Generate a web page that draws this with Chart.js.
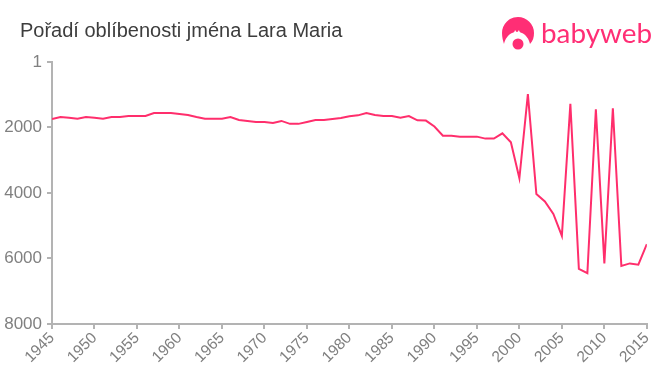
<!DOCTYPE html>
<html>
<head>
<meta charset="utf-8">
<script src="https://cdn.jsdelivr.net/npm/chart.js@4"></script>
<style>
  html, body { margin: 0; padding: 0; background: #fff; }
  #wrap { position: relative; width: 660px; height: 375px; overflow: hidden; }
  #logo { position: absolute; left: 0; top: 0; }
  #title { position: absolute; left: 20px; top: 19px; font: 20px "Liberation Sans"; color: #3d3d3d; white-space: nowrap; }
</style>
</head>
<body>
<div id="wrap">
  <canvas id="rankChart" width="660" height="375"></canvas>
  <div id="title">Pořadí oblíbenosti jména Lara Maria</div>
  <svg id="logo" width="660" height="70">
    <path fill="#ff2e75" d="M502 33a16 16 0 1 1 32 0c0 4-1 8-4 11c-1-5-4-9-8-11c-1 0-3-1-3-3c-1 1-1 2-2 2c-1 0-1-1-2-2c0 2-2 3-3 3c-4 2-7 6-8 11c-1-3-2-7-2-11z"/>
    <circle cx="518" cy="44" r="5.5" fill="#ff2e75"/>
    <text x="541" y="42.5" fill="#ff2e75" font-family="Lato" font-size="27.5" textLength="111" lengthAdjust="spacingAndGlyphs">babyweb</text>
  </svg>
</div>
<script>
const years = [];
for (let y = 1945; y <= 2015; y++) years.push(y);
const ranks = [
  1740,1680,1700,1730,1680,1700,1730,1680,1680,1650,
  1650,1650,1560,1560,1560,1590,1620,1680,1730,1730,
  1730,1680,1770,1800,1830,1830,1860,1800,1890,1890,
  1830,1770,1770,1740,1710,1660,1630,1560,1620,1650,
  1650,1700,1650,1780,1790,1970,2250,2250,2280,2280,
  2280,2340,2340,2180,2450,3550,980,4030,4260,4640,
  5310,1280,6320,6450,1445,6150,1415,6230,6150,6190,
  5560
];
const yTicks = [1, 2000, 4000, 6000, 8000];
const axisColor = '#b3b3b3';
const labelColor = '#808080';

new Chart(document.getElementById('rankChart'), {
  type: 'line',
  data: {
    datasets: [{
      data: years.map((y, i) => ({ x: y, y: ranks[i] })),
      borderColor: '#ff2e6c',
      borderWidth: 2,
      pointRadius: 0,
      tension: 0,
      fill: false
    }]
  },
  options: {
    responsive: false,
    animation: false,
    layout: { padding: { left: 0, right: 12, top: 62, bottom: 0 } },
    plugins: {
      legend: { display: false },
      tooltip: { enabled: false }
    },
    scales: {
      x: {
        type: 'linear',
        min: 1945,
        max: 2015,
        border: { color: axisColor, width: 2 },
        grid: { drawOnChartArea: false, color: axisColor, lineWidth: 2, tickLength: 5 },
        ticks: {
          stepSize: 5,
          minRotation: 45,
          maxRotation: 45,
          padding: 0,
          color: labelColor,
          font: { family: 'Liberation Sans', size: 15.5 },
          callback: v => String(v)
        },
        afterFit: s => { s.height = 51; }
      },
      y: {
        reverse: true,
        min: 1,
        max: 8000,
        border: { color: axisColor, width: 2 },
        grid: { drawOnChartArea: false, color: axisColor, lineWidth: 2, tickLength: 5 },
        ticks: {
          padding: 5,
          color: labelColor,
          font: { family: 'Liberation Sans', size: 17 },
          callback: v => String(v)
        },
        afterBuildTicks: s => { s.ticks = yTicks.map(v => ({ value: v })); },
        afterFit: s => { s.width = 52; }
      }
    }
  }
});
</script>
</body>
</html>
